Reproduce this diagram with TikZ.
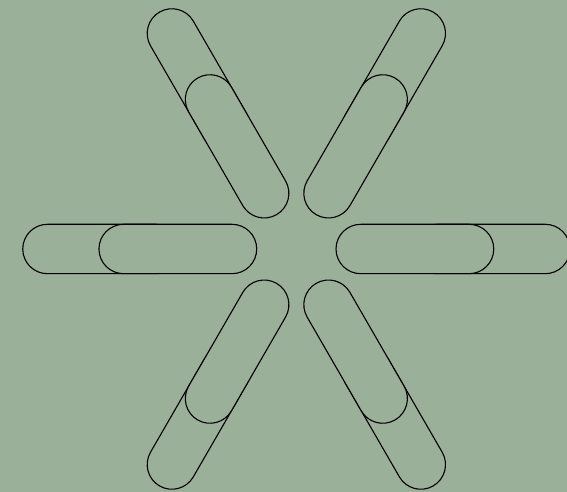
\documentclass[tikz,border=0pt]{standalone}
\definecolor{bg}{HTML}{9AB098}
\begin{document}
\begin{tikzpicture}[x=1pt,y=1pt,
  pill/.style={draw=black,line width=1.1pt,fill=bg}]
\fill[bg] (0,0) rectangle (567,492);
\useasboundingbox (0,0) rectangle (567,492);
\clip (0,0) rectangle (567,492);
\foreach \a in {0,60,...,300}{
  \begin{scope}[shift={(296.35,243)}, rotate=\a]
    % outer pill
    \path[pill] (140.6,-24.7) -- (248.9,-24.7)
      arc[start angle=-90,end angle=90,radius=24.7] -- (140.6,24.7)
      arc[start angle=90,end angle=270,radius=24.7] -- cycle;
    % inner pill on top
    \path[pill] (64.35,-24.7) -- (172.7,-24.7)
      arc[start angle=-90,end angle=90,radius=24.7] -- (64.35,24.7)
      arc[start angle=90,end angle=270,radius=24.7] -- cycle;
  \end{scope}
}
\end{tikzpicture}
\end{document}
